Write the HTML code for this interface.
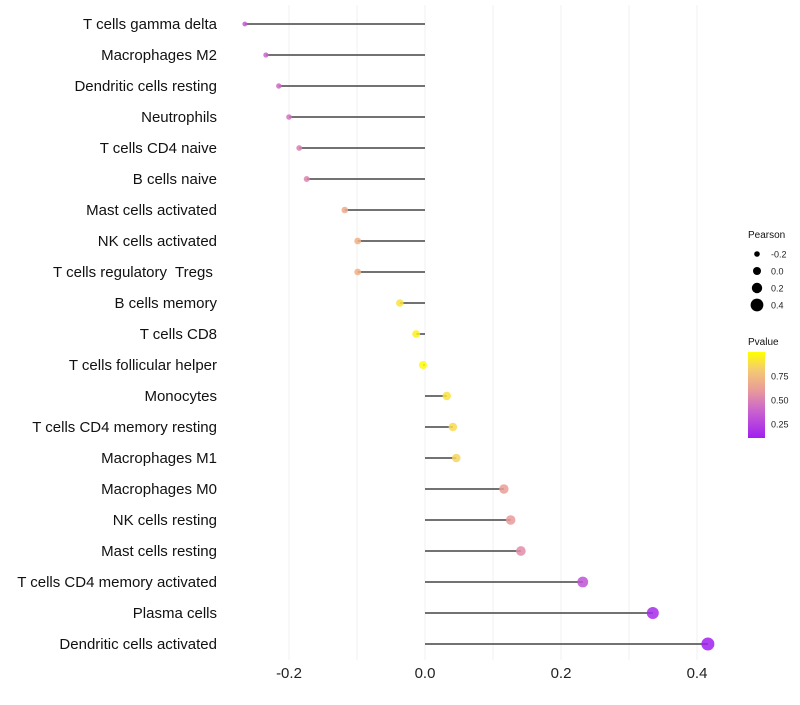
<!DOCTYPE html>
<html><head><meta charset="utf-8"><style>
body{margin:0;background:#fff;font-family:"Liberation Sans",sans-serif}
text{white-space:pre}
</style></head><body>
<svg id="c" width="800" height="700" xmlns="http://www.w3.org/2000/svg">
<defs><linearGradient id="pg" x1="0" y1="1" x2="0" y2="0">
<stop offset="0" stop-color="#a020f0"/><stop offset="0.33" stop-color="#cc66cc"/><stop offset="0.55" stop-color="#e89a9a"/><stop offset="0.8" stop-color="#f5cc70"/><stop offset="1" stop-color="#ffff00"/>
</linearGradient></defs>
</svg>
<script>
const categories=["T cells gamma delta","Macrophages M2","Dendritic cells resting","Neutrophils","T cells CD4 naive","B cells naive","Mast cells activated","NK cells activated","T cells regulatory  Tregs ","B cells memory","T cells CD8","T cells follicular helper","Monocytes","T cells CD4 memory resting","Macrophages M1","Macrophages M0","NK cells resting","Mast cells resting","T cells CD4 memory activated","Plasma cells","Dendritic cells activated"];
const pearson=[-0.265,-0.234,-0.215,-0.200,-0.185,-0.174,-0.118,-0.099,-0.099,-0.037,-0.013,-0.003,0.032,0.041,0.046,0.116,0.126,0.141,0.232,0.335,0.416];
const pvalue=[0.35,0.4,0.42,0.45,0.5,0.52,0.67,0.7,0.7,0.9,0.95,0.99,0.9,0.87,0.85,0.62,0.6,0.55,0.32,0.15,0.08];
const xTicks=[-0.2,0,0.2,0.4];
const xTickLabels=["-0.2","0.0","0.2","0.4"];
const sizeLegend=[-0.2,0.0,0.2,0.4];
const NS="http://www.w3.org/2000/svg";
const svg=document.getElementById('c');
const xs=v=>425+v*680;
const ys=i=>24+i*31;
const rs=v=>Math.max(1.5,2.8+(v+0.2)*6.0);
const stops=[[0.1,[160,32,240]],[0.4,[204,102,204]],[0.6,[232,154,154]],[0.82,[245,204,112]],[1.0,[255,255,0]]];
function col(p){for(let k=1;k<stops.length;k++){if(p<=stops[k][0]||k==stops.length-1){const a=stops[k-1],b=stops[k];let t=(p-a[0])/(b[0]-a[0]);t=Math.max(0,Math.min(1,t));return 'rgb('+a[1].map((c,j)=>Math.round(c+(b[1][j]-c)*t)).join(',')+')';}}}
function el(t,a,txt){const e=document.createElementNS(NS,t);for(const k in a)e.setAttribute(k,a[k]);if(txt!==undefined)e.textContent=txt;svg.appendChild(e);return e;}
for(let v=-0.3;v<=0.41;v+=0.1){const x=xs(v);if(x<230)continue;
const g=el('line',{x1:x,x2:x,y1:5,y2:660,stroke:'#f0f0f0','stroke-width':1});

}
xTicks.forEach((v,i)=>{const t=el('text',{x:xs(v),y:678,'text-anchor':'middle','font-size':15,fill:'#222'},xTickLabels[i]);

});
categories.forEach((c,i)=>{const y=ys(i);
const t=el('text',{x:217,y:y+5,'text-anchor':'end','font-size':15,fill:'#111'},c);


const s=el('line',{x1:xs(0),x2:xs(pearson[i]),y1:y,y2:y,stroke:'#444','stroke-width':1.5});


const d=el('circle',{cx:xs(pearson[i]),cy:y,r:rs(pearson[i]),fill:col(pvalue[i]),'fill-opacity':0.85});

});
let t=el('text',{x:748,y:238,'font-size':10,fill:'#111'},'Pearson');


sizeLegend.forEach((v,i)=>{const y=254+i*17;
const c=el('circle',{cx:757,cy:y,r:rs(v),fill:'#000'});


const l=el('text',{x:771,y:y+3.5,'font-size':9,fill:'#222'},v.toFixed(1));

});
t=el('text',{x:748,y:345,'font-size':10,fill:'#111'},'Pvalue');


const bar=el('rect',{x:748,y:352,width:17,height:86,fill:'url(#pg)'});


[[0.75,376],[0.5,400],[0.25,424]].forEach(([v,y])=>{
const l=el('text',{x:771,y:y+3.5,'font-size':9,fill:'#222'},v.toFixed(2));

});
</script>
</body></html>
